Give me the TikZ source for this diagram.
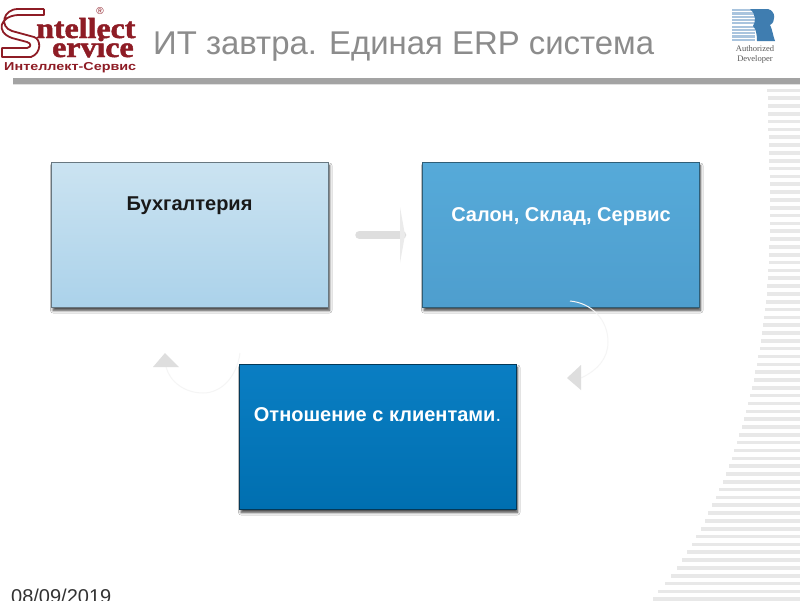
\documentclass[tikz,border=0pt]{standalone}
\usepackage{fontspec}
\setmainfont{Liberation Sans}
\newfontfamily\logoserif{Liberation Serif}
\newfontfamily\logoheavy{Liberation Serif Bold}[FakeBold=1.6]
\usetikzlibrary{shadows.blur,calc}
\definecolor{logored}{HTML}{8E1C25}
\definecolor{rulegray}{HTML}{A3A3A3}
\definecolor{stripe}{HTML}{E8E8E8}
\definecolor{titlegray}{HTML}{8C8C8C}
\definecolor{arrowgray}{HTML}{DEDEDE}
\definecolor{arcgray}{HTML}{F5F5F5}
\definecolor{rlight}{HTML}{A9C4DE}
\definecolor{rdark}{HTML}{3F7DB0}
\definecolor{boxAtop}{HTML}{CBE3F1}
\definecolor{boxAbot}{HTML}{ABD2EA}
\definecolor{boxBtop}{HTML}{56AAD9}
\definecolor{boxBbot}{HTML}{4E9ECE}
\definecolor{boxCtop}{HTML}{0A7EC3}
\definecolor{boxCbot}{HTML}{006FB0}
\tikzset{
  x=1pt,y=-1pt,
  boxbase/.style={minimum width=276.5pt,minimum height=145pt,anchor=north west,inner sep=0pt,line width=1pt,
    blur shadow={shadow xshift=1.5pt,shadow yshift=-3pt,shadow blur steps=6,shadow blur radius=2.5pt,shadow opacity=75}},
  boxa/.style={boxbase,draw=black!45!boxAbot!70!gray,top color=boxAtop,bottom color=boxAbot},
  boxb/.style={boxbase,draw=black!45!boxBtop,top color=boxBtop,bottom color=boxBbot},
  boxc/.style={boxbase,draw=black!55!boxCtop,top color=boxCtop,bottom color=boxCbot},
  boxtext/.style={font=\fontsize{20}{22}\selectfont\bfseries,anchor=base,inner sep=0pt},
  conn/.style={draw=arrowgray,line width=8.5pt,line cap=round},
  connarc/.style={draw=arcgray,line width=1pt},
  tip/.style={fill=arrowgray,draw=none},
  logotext/.style={anchor=base west,inner sep=0pt,text=logored},
}
\begin{document}
\begin{tikzpicture}
\useasboundingbox (0,0) rectangle (800,600);
\fill[white] (0,0) rectangle (800,600);
% right stripes
\foreach \xx [count=\k from 0] in {767.3,767.7,767.7,768,768.3,768.3,768.7,769,769,769.3,769.3,769.7,769.7,769.8,770,770,770,770,770,770,769.3,769.3,769,768.3,767.7,767.3,766.7,766,765,764,763,762,760.7,759.7,758.3,756.7,755.3,753.7,752,750,748.3,746,744,741.7,739.3,736.7,734.3,731.7,728.7,726,722.7,719.3,716,712.3,708.3,705,700.7,696,691.7,686.7,681.7,677,671,665,658,653}
  \fill[stripe] (\xx,90.3+7.83*\k-1.8) rectangle (800,90.3+7.83*\k+1.8);
% header rule
\fill[rulegray] (13,78) rectangle (800,83.5);
\fill[black!12] (13,83.5) rectangle (800,84.5);
% title and date
\node[anchor=base west,inner sep=0pt,text=titlegray,font=\fontsize{32.9}{34}\selectfont] (title) at (153,54) {ИТ завтра. Единая ERP система};
\node[anchor=base west,inner sep=0pt,text=black!80,font=\fontsize{20}{22}\selectfont] (date) at (11,603) {08/09/2019};
% logo
\draw[logored,line width=1.8pt,line join=round] (44,9) -- (18,9) .. controls (3,9) and (-1,27) .. (12,31) -- (34,37) .. controls (41,39) and (42,53) .. (31,57) -- (2,57) -- (2,48) -- (27,48) .. controls (32,47) and (31,43) .. (27,42) -- (12,38) .. controls (-5,32) and (0,16) .. (18,15) -- (44,15) -- (44,9);
\node[logotext,font=\logoheavy\fontsize{29}{30}\selectfont,xscale=1.1] (logo1) at (36,38) {ntellect};
\node[logotext,font=\logoheavy\fontsize{29}{30}\selectfont,xscale=1.1] (logo2) at (52,57) {ervice};
\node[logotext,font=\bfseries\fontsize{11.5}{12}\selectfont,xscale=1.25] (logo3) at (4,70) {Интеллект-Сервис};
\node[anchor=center,inner sep=0pt,text=logored,font=\fontsize{10}{10}\selectfont] (logo4) at (100,11) {®};
% R logo
\foreach \k in {0,...,9}
  \fill[rlight] (732,9+3.3*\k) rectangle (755,9+3.3*\k+2.2);
\fill[rdark] (750,9) -- (768,9) .. controls (776,11) and (776,22) .. (770,25) .. controls (772,28) and (773,36) .. (775,41) -- (757,41) .. controls (757,32) and (755,28) .. (753,26) .. controls (756,22) and (756,14) .. (750,9) -- cycle;
\node[anchor=center,inner sep=0pt,align=center,text=black!65,font=\logoserif\fontsize{8.5}{10}\selectfont] (rtext) at (755,54) {Authorized\\Developer};
% boxes
\node[boxa] (a) at (51,162) {};
\node[boxb] (b) at (422,162) {};
\node[boxc] (c) at (239,364) {};
\node[boxtext,text=black!90] (ta) at (189.5,210) {Бухгалтерия};
\node[boxtext,text=white] (tb) at (561,221) {Салон, Склад, Сервис};
\node[boxtext,text=white] (tc) at (377.5,421) {Отношение с клиентами\textmd{.}};
% connectors
\coordinate (ab1) at ($(a.east)+(31,0)$);
\coordinate (ab2) at ($(b.west)+(-20,0)$);
\draw[conn] (ab1) -- (ab2);
\fill[tip,fill=arrowgray!60] ($(ab2)+(-2,-28)$) -- ($(ab2)+(3,0)$) -- ($(ab2)+(-2,28)$) -- cycle;
\coordinate (bc1) at (570,301);
\coordinate (bc2) at (581,378);
\draw[connarc] (bc1) .. controls (592,303) and (608,320) .. (608,342) .. controls (608,358) and (598,370) .. (bc2);
\fill[tip] (581,365) -- (581,390) -- (567,378) -- cycle;
\coordinate (ca1) at (240,353);
\coordinate (ca2) at (166,367);
\draw[connarc] (ca1) .. controls (237,376) and (222,393) .. (203,393) .. controls (185,393) and (170,382) .. (ca2);
\fill[tip] (153,367) -- (179,367) -- (165,353) -- cycle;
\end{tikzpicture}
\end{document}
